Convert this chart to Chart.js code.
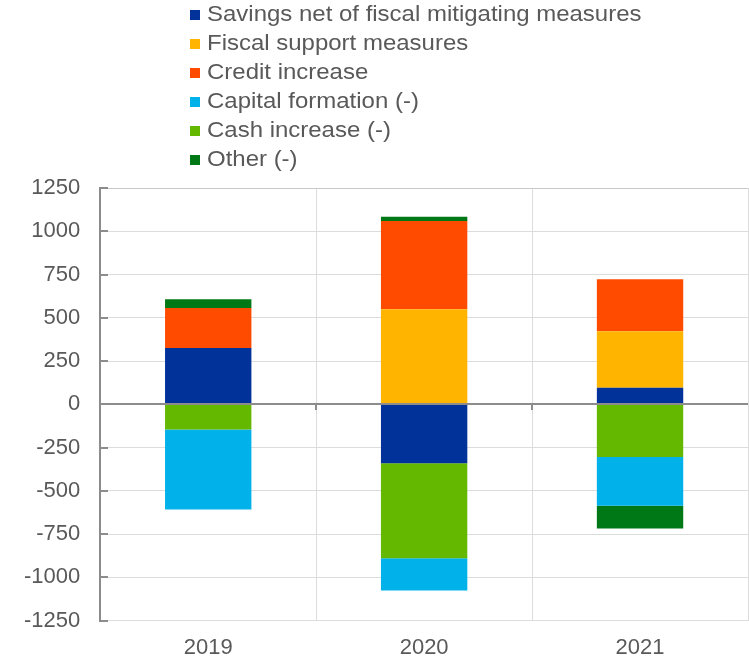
<!DOCTYPE html>
<html>
<head>
<meta charset="utf-8">
<script src="https://cdn.jsdelivr.net/npm/chart.js@4"></script>
<style>
  html, body { margin: 0; padding: 0; background: #ffffff; overflow: hidden; }
  #wrap { position: relative; width: 749px; height: 661px; overflow: hidden; }
  #chart { position: absolute; left: 0; top: 0; }
  #legend { position: absolute; left: 190px; top: -1.5px; font-family: "Liberation Sans", Arial, sans-serif; font-size: 22px; color: #595959; }
  .item { position: relative; height: 29px; line-height: 29px; white-space: nowrap; }
  .box { position: absolute; left: 0; top: 11px; width: 10px; height: 10px; }
  .txt { position: absolute; left: 17px; top: 0; display: inline-block; transform: scaleX(1.09); transform-origin: left center; }
</style>
</head>
<body>
<div id="wrap">
  <canvas id="chart" width="749" height="675"></canvas>
  <div id="legend"></div>
</div>
<script>
// ---- data ----
const categories = ["2019", "2020", "2021"];
const savingsNet = [326, -341, 96];
const fiscalSupport = [0, 550, 326];
const creditIncrease = [231, 509, 300];
const capitalFormation = [-462, -187, -281];
const cashIncrease = [-146, -548, -305];
const otherValues = [50, 25, -132];
const yTicks = [-1250, -1000, -750, -500, -250, 0, 250, 500, 750, 1000, 1250];

const seriesNames = {
  savings: "Savings net of fiscal mitigating measures",
  fiscal: "Fiscal support measures",
  credit: "Credit increase",
  capital: "Capital formation (-)",
  cash: "Cash increase (-)",
  other: "Other (-)"
};
const colors = {
  savings: "#003299",
  fiscal: "#FFB400",
  credit: "#FF4B00",
  capital: "#00B1EA",
  cash: "#65B800",
  other: "#007816"
};
const legendOrder = ["savings", "fiscal", "credit", "capital", "cash", "other"];

// stacking order (outward from zero)
const stackOrder = [
  ["savings", savingsNet],
  ["fiscal", fiscalSupport],
  ["credit", creditIncrease],
  ["cash", cashIncrease],
  ["capital", capitalFormation],
  ["other", otherValues]
];

const datasets = stackOrder.map(([key, vals]) => ({
  label: seriesNames[key],
  data: vals,
  backgroundColor: colors[key],
  borderWidth: 0,
  barPercentage: 0.4,
  categoryPercentage: 1.0
}));

// HTML legend (real text)
const legendEl = document.getElementById("legend");
legendOrder.forEach(k => {
  const d = document.createElement("div");
  d.className = "item";
  const b = document.createElement("span");
  b.className = "box";
  b.style.background = colors[k];
  const t = document.createElement("span");
  t.className = "txt";
  t.textContent = seriesNames[k];
  d.appendChild(b); d.appendChild(t);
  legendEl.appendChild(d);
});

const axisGrey = "#8c8c8c";
const axisDecor = {
  id: "axisDecor",
  afterDatasetsDraw(chart) {
    const { ctx, chartArea, scales: { x, y } } = chart;
    const y0 = Math.round(y.getPixelForValue(0));
    ctx.save();
    ctx.strokeStyle = axisGrey;
    ctx.lineWidth = 2;
    // zero line
    ctx.beginPath();
    ctx.moveTo(chartArea.left, y0);
    ctx.lineTo(chartArea.right, y0);
    ctx.stroke();
    // value axis line
    const lx = Math.round(chartArea.left);
    ctx.beginPath();
    ctx.moveTo(lx, Math.round(y.getPixelForValue(1250)) - 1);
    ctx.lineTo(lx, Math.round(y.getPixelForValue(-1250)) + 1);
    ctx.stroke();
    // tick marks at category boundaries on the zero line
    for (let i = 0; i < categories.length - 1; i++) {
      const bx = Math.round((x.getPixelForTick(i) + x.getPixelForTick(i + 1)) / 2);
      ctx.beginPath();
      ctx.moveTo(bx, y0);
      ctx.lineTo(bx, y0 + 6);
      ctx.stroke();
    }
    // inner tick marks on the value axis
    yTicks.forEach(v => {
      const py = Math.round(y.getPixelForValue(v));
      ctx.beginPath();
      ctx.moveTo(lx, py);
      ctx.lineTo(lx + 8, py);
      ctx.stroke();
    });
    ctx.restore();
  }
};

new Chart(document.getElementById("chart"), {
  type: "bar",
  data: { labels: categories, datasets },
  plugins: [axisDecor],
  options: {
    responsive: false,
    animation: false,
    layout: { padding: { top: 188, left: 4, right: 1, bottom: 0 } },
    plugins: { legend: { display: false }, tooltip: { enabled: false } },
    scales: {
      x: {
        stacked: true,
        grid: {
          color: (c) => (c.index === categories.length) ? "#c4c4c4" : "#dcdcdc",
          lineWidth: (c) => (c.index === categories.length) ? 2 : 1,
          offset: true,
          drawTicks: false
        },
        border: { display: false },
        ticks: { color: "#595959", font: { family: "Liberation Sans", size: 22 }, padding: 14 }
      },
      y: {
        stacked: true,
        min: -1250,
        max: 1250,
        afterBuildTicks: (scale) => { scale.ticks = yTicks.map(v => ({ value: v })); },
        grid: {
          color: (c) => {
            if (c.tick && c.tick.value === 0) return "rgba(0,0,0,0)";
            if (c.tick && c.tick.value === 1250) return "#c8c8c8";
            return "#dcdcdc";
          },
          lineWidth: 1,
          drawTicks: false
        },
        border: { display: false },
        ticks: {
          color: "#595959",
          font: { family: "Liberation Sans", size: 22 },
          padding: 20,
          callback: (v) => String(v)
        }
      }
    }
  }
});
</script>
</body>
</html>
